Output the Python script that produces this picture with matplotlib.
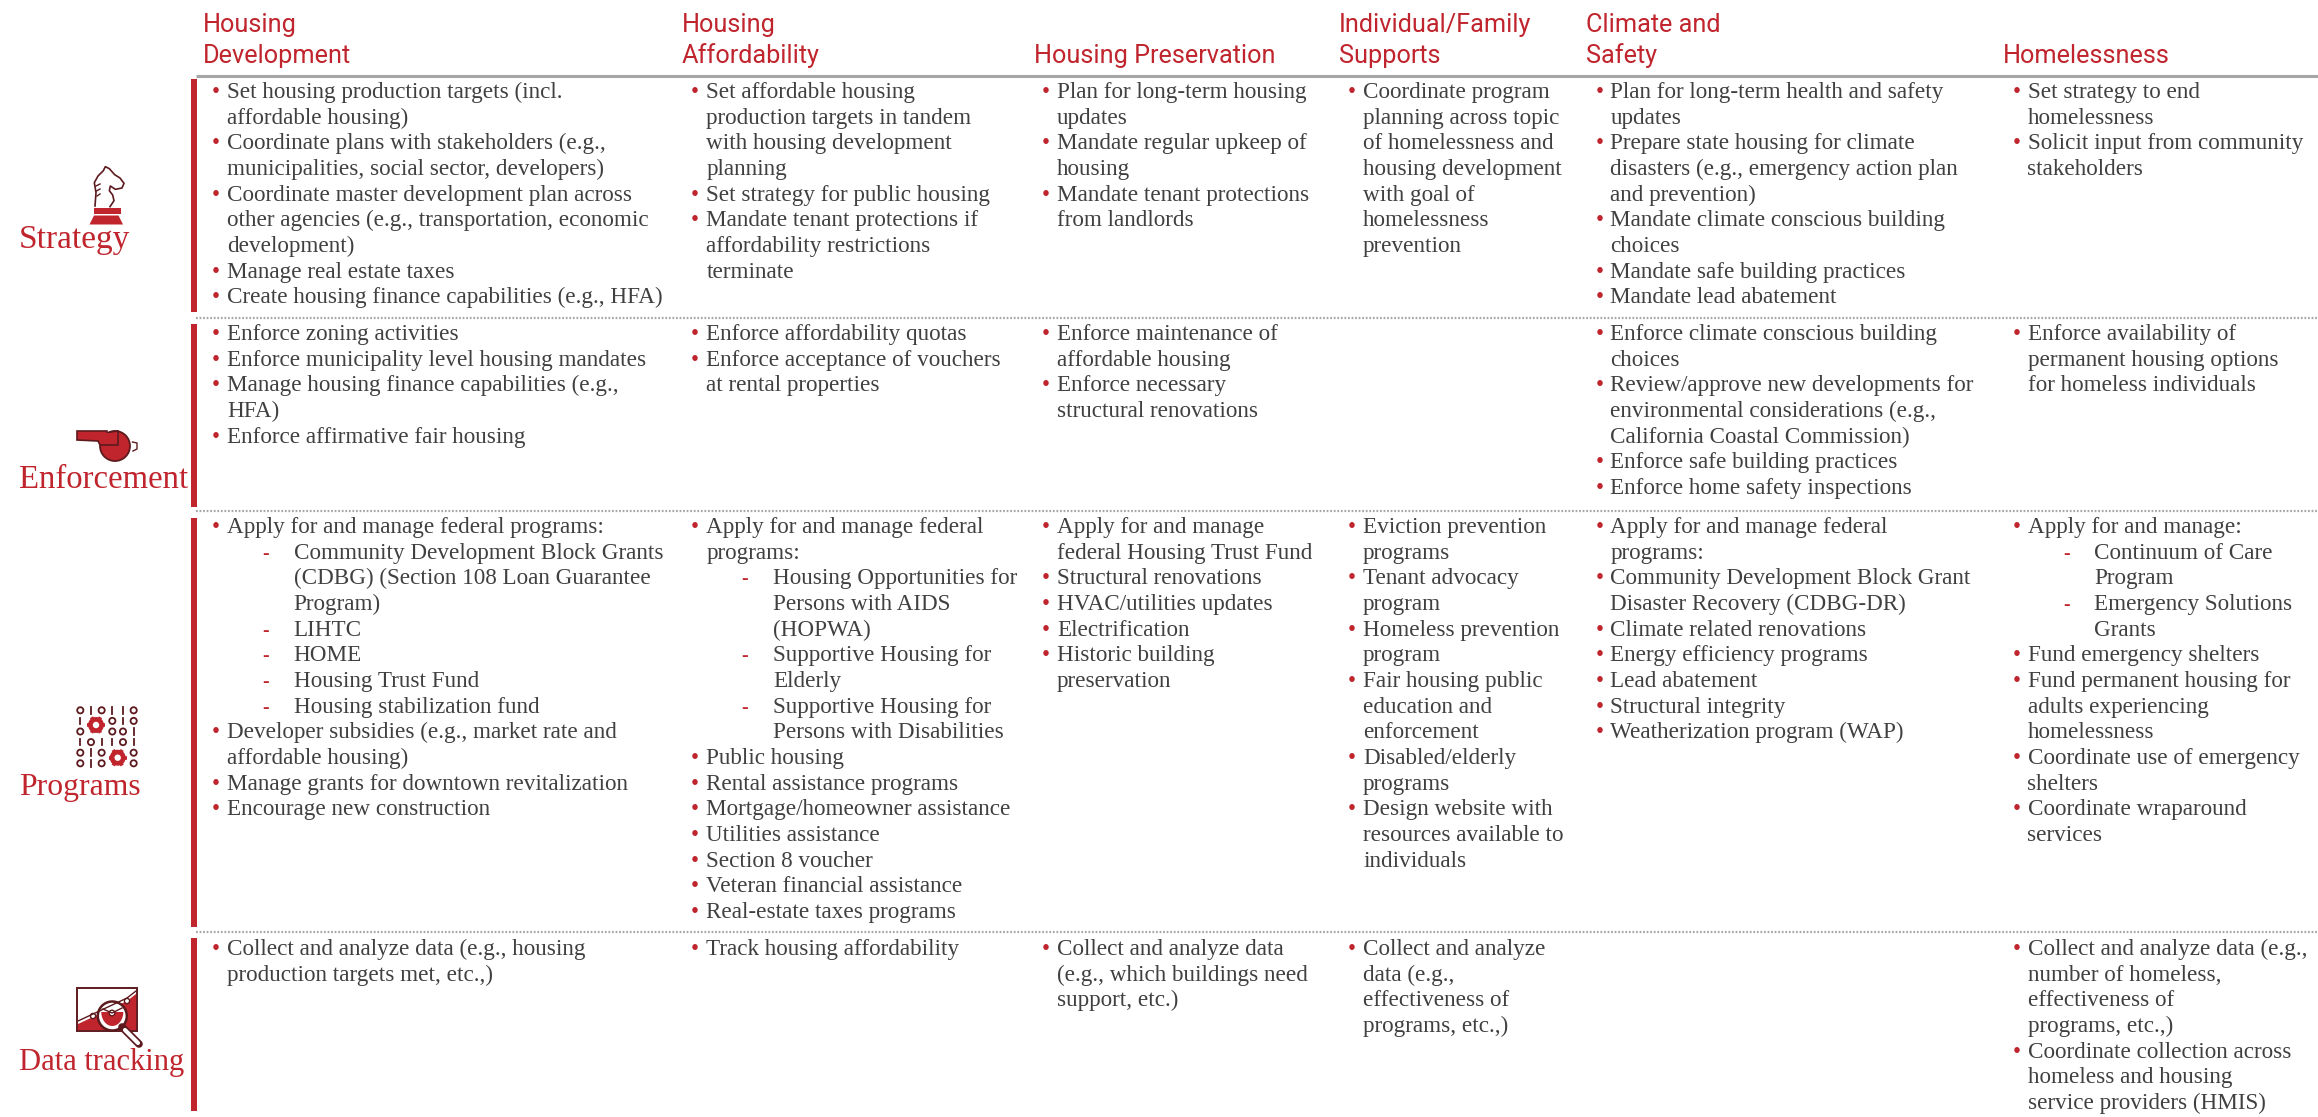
import numpy as np
from matplotlib import pyplot as plt
from matplotlib.patches import Circle, Polygon, Rectangle
from matplotlib.textpath import TextPath
from matplotlib.font_manager import FontProperties

RED = '#C0242C'
DARK = '#5C1A1E'
TEXT = '#404040'
GRAY = '#A6A6A6'

headers = [
    ['Housing', 'Development'],
    ['Housing', 'Affordability'],
    ['', 'Housing Preservation'],
    ['Individual/Family', 'Supports'],
    ['Climate and', 'Safety'],
    ['', 'Homelessness'],
]
row_labels = ['Strategy', 'Enforcement', 'Programs', 'Data tracking']

strategy = [
    ['Set housing production targets (incl.\naffordable housing)',
     'Coordinate plans with stakeholders (e.g.,\nmunicipalities, social sector, developers)',
     'Coordinate master development plan across\nother agencies (e.g., transportation, economic\ndevelopment)',
     'Manage real estate taxes',
     'Create housing finance capabilities (e.g., HFA)'],
    ['Set affordable housing\nproduction targets in tandem\nwith housing development\nplanning',
     'Set strategy for public housing',
     'Mandate tenant protections if\naffordability restrictions\nterminate'],
    ['Plan for long-term housing\nupdates',
     'Mandate regular upkeep of\nhousing',
     'Mandate tenant protections\nfrom landlords'],
    ['Coordinate program\nplanning across topic\nof homelessness and\nhousing development\nwith goal of\nhomelessness\nprevention'],
    ['Plan for long-term health and safety\nupdates',
     'Prepare state housing for climate\ndisasters (e.g., emergency action plan\nand prevention)',
     'Mandate climate conscious building\nchoices',
     'Mandate safe building practices',
     'Mandate lead abatement'],
    ['Set strategy to end\nhomelessness',
     'Solicit input from community\nstakeholders'],
]
enforcement = [
    ['Enforce zoning activities',
     'Enforce municipality level housing mandates',
     'Manage housing finance capabilities (e.g.,\nHFA)',
     'Enforce affirmative fair housing'],
    ['Enforce affordability quotas',
     'Enforce acceptance of vouchers\nat rental properties'],
    ['Enforce maintenance of\naffordable housing',
     'Enforce necessary\nstructural renovations'],
    [],
    ['Enforce climate conscious building\nchoices',
     'Review/approve new developments for\nenvironmental considerations (e.g.,\nCalifornia Coastal Commission)',
     'Enforce safe building practices',
     'Enforce home safety inspections'],
    ['Enforce availability of\npermanent housing options\nfor homeless individuals'],
]
programs = [
    ['Apply for and manage federal programs:',
     '- Community Development Block Grants\n(CDBG) (Section 108 Loan Guarantee\nProgram)',
     '- LIHTC', '- HOME', '- Housing Trust Fund', '- Housing stabilization fund',
     'Developer subsidies (e.g., market rate and\naffordable housing)',
     'Manage grants for downtown revitalization',
     'Encourage new construction'],
    ['Apply for and manage federal\nprograms:',
     '- Housing Opportunities for\nPersons with AIDS\n(HOPWA)',
     '- Supportive Housing for\nElderly',
     '- Supportive Housing for\nPersons with Disabilities',
     'Public housing', 'Rental assistance programs',
     'Mortgage/homeowner assistance', 'Utilities assistance',
     'Section 8 voucher', 'Veteran financial assistance',
     'Real-estate taxes programs'],
    ['Apply for and manage\nfederal Housing Trust Fund',
     'Structural renovations', 'HVAC/utilities updates', 'Electrification',
     'Historic building\npreservation'],
    ['Eviction prevention\nprograms', 'Tenant advocacy\nprogram',
     'Homeless prevention\nprogram', 'Fair housing public\neducation and\nenforcement',
     'Disabled/elderly\nprograms', 'Design website with\nresources available to\nindividuals'],
    ['Apply for and manage federal\nprograms:',
     'Community Development Block Grant\nDisaster Recovery (CDBG-DR)',
     'Climate related renovations', 'Energy efficiency programs',
     'Lead abatement', 'Structural integrity', 'Weatherization program (WAP)'],
    ['Apply for and manage:',
     '- Continuum of Care\nProgram',
     '- Emergency Solutions\nGrants',
     'Fund emergency shelters',
     'Fund permanent housing for\nadults experiencing\nhomelessness',
     'Coordinate use of emergency\nshelters',
     'Coordinate wraparound\nservices'],
]
data_tracking = [
    ['Collect and analyze data (e.g., housing\nproduction targets met, etc.,)'],
    ['Track housing affordability'],
    ['Collect and analyze data\n(e.g., which buildings need\nsupport, etc.)'],
    ['Collect and analyze\ndata (e.g.,\neffectiveness of\nprograms, etc.,)'],
    [],
    ['Collect and analyze data (e.g.,\nnumber of homeless,\neffectiveness of\nprograms, etc.,)',
     'Coordinate collection across\nhomeless and housing\nservice providers (HMIS)'],
]
rows = [strategy, enforcement, programs, data_tracking]

# layout, in reference pixels
header_x = [203, 682, 1033.5, 1338.5, 1586, 2003]
bullet_x = [216, 695, 1046, 1352, 1599.5, 2017]
text_x = [227, 706.5, 1057, 1363, 1610.5, 2027.5]
row_baseline = [98, 340, 533, 955]
row_bars = [(79, 312), (324, 507), (518, 927), (938, 1111)]
separators = [318, 511, 932]
label_baseline = [248, 488, 795, 1070]
label_width = [109, 168, 119, 164]
LINE = 25.67


def fit_px(text, family, width):
    return width / TextPath((0, 0), text, size=1, prop=FontProperties(family=family)).get_extents().width


body_pt = fit_px('Create housing finance capabilities (e.g., HFA)', 'Liberation Serif', 434) * .72
head_pt = fit_px('Housing Preservation', 'Roboto', 238) * .72

fig = plt.figure(figsize=(23.18, 11.17), dpi=100)
ax = fig.add_axes([0, 0, 1, 1])
ax.set_xlim(0, 2318)
ax.set_ylim(1117, 0)
ax.axis('off')

# headers and rules
for x, lines in zip(header_x, headers):
    for y, s in zip([32, 63], lines):
        ax.text(x, y, s, color=RED, fontsize=head_pt, family='Roboto', va='baseline')
ax.plot([196, 2318], [76, 76], color=GRAY, lw=2.2, solid_capstyle='butt')
for y in separators:
    ax.plot([196, 2318], [y, y], color=GRAY, lw=1.6, ls=(0, (0.8, 0.8)))
for y0, y1 in row_bars:
    ax.add_patch(Rectangle((191, y0), 6, y1 - y0, color=RED, lw=0))

# cells
for base, row in zip(row_baseline, rows):
    for c, cell in enumerate(row):
        y = base
        for item in cell:
            sub = item.startswith('- ')
            x = text_x[c] + 66.5 if sub else text_x[c]
            if sub:
                ax.text(bullet_x[c] + 50, y, '-', color=RED, fontsize=body_pt * .85, family='Liberation Serif', ha='center', va='baseline')
            else:
                ax.text(bullet_x[c], y, '\u2022', color=RED, fontsize=body_pt, family='Liberation Serif', ha='center', va='baseline')
            for line in item.removeprefix('- ').split('\n'):
                ax.text(x, y, line, color=TEXT, fontsize=body_pt, family='Liberation Serif', va='baseline')
                y += LINE

for y, s, w in zip(label_baseline, row_labels, label_width):
    ax.text(19, y, s, color=RED, fontsize=fit_px(s, 'Liberation Serif', w) * .72, family='Liberation Serif', va='baseline')

# knight icon
knight = [(120, 170), (132, 152), (128, 135), (118, 122), (121, 108), (136, 118), (156, 114), (162, 100),
          (150, 84), (134, 74), (118, 56), (106, 50), (100, 62), (84, 78), (73, 98), (78, 128), (75, 168)]
knight = np.array(knight) / 3 + [70, 150]
ax.plot(*np.array(knight).T, color=DARK, lw=1.2)
for k in range(3):
    ax.plot([96 + k * .5, 100], [186 + k * 5, 184 + k * 5], color=DARK, lw=1)
ax.add_patch(Rectangle((93.5, 207.5), 27.5, 6, color=RED, lw=0))
ax.add_patch(Polygon([(89.5, 224.5), (123, 224.5), (118.5, 215.5), (94, 215.5)], color=RED, lw=0))

# whistle icon
ax.add_patch(Circle((115, 446), 15, fc=RED, ec=DARK, lw=1.3))
ax.add_patch(Polygon([(77, 431), (107, 431), (107, 437), (110, 437), (110, 432), (118, 431), (118, 445), (100, 445), (98, 441), (77, 440)], fc=RED, ec=DARK, lw=1.2))
ax.add_patch(Rectangle((100, 432.5), 16, 9, color=RED, lw=0))
ax.plot([132.5, 137, 137, 133], [442, 443, 449, 451], color=DARK, lw=1)

# programs icon
grid = ['OIOIIO', 'I..OIO', 'O..OOI', 'IOIIOI', 'OIO..O', 'OIO..O']
for i, line in enumerate(grid):
    for j, ch in enumerate(line):
        cx, cy = 80.3 + j * 10.67, 710.3 + i * 10.6
        if ch == 'O':
            ax.add_patch(Circle((cx, cy), 3.1, fc='white', ec=DARK, lw=1.3))
        elif ch == 'I':
            ax.plot([cx, cx], [cy - 3.2, cy + 3.2], color=DARK, lw=1.3)
for cx, cy in [(96, 725), (117.7, 757.7)]:
    ax.add_patch(Circle((cx, cy), 5.6, fc='white', ec=RED, lw=3.4))
    for a in np.arange(0, 2 * np.pi, np.pi / 3):
        ax.plot([cx + 6 * np.cos(a), cx + 9 * np.cos(a)], [cy + 6 * np.sin(a), cy + 9 * np.sin(a)], color=RED, lw=2.6, solid_capstyle='butt')

# data tracking icon
ax.add_patch(Rectangle((77, 988), 60, 42.5, fc='white', ec=DARK, lw=1.4))
ax.add_patch(Polygon([(78, 1030), (78, 1024), (93, 1017), (127, 1001), (136, 994), (136, 1030)], color=RED, lw=0))
ax.plot([78, 93, 127, 136], [1021, 1014, 998, 991], color=DARK, lw=1)
ax.plot([122, 139], [1027, 1044], color=DARK, lw=5.5, solid_capstyle='round')
ax.plot([125, 138], [1030, 1043], color='white', lw=3, solid_capstyle='round')
ax.add_patch(Circle((112.3, 1016), 14.5, fc='white', ec=DARK, lw=1.8))
theta = np.linspace(0, np.pi, 30)
ax.add_patch(Polygon(np.c_[112.3 + 11 * np.cos(theta), 1012 + 14 * np.sin(theta)], color=RED, lw=0))
ax.plot([103, 112, 122], [1009, 1013, 1008], color=DARK, lw=1)
ax.add_patch(Circle((112, 1013), 2.8, fc='white', ec=DARK, lw=1))
for cx, cy in [(93, 1016), (127, 1001)]:
    ax.add_patch(Circle((cx, cy), 2.6, fc='white', ec=DARK, lw=1))

plt.savefig('out.png', dpi=100)
